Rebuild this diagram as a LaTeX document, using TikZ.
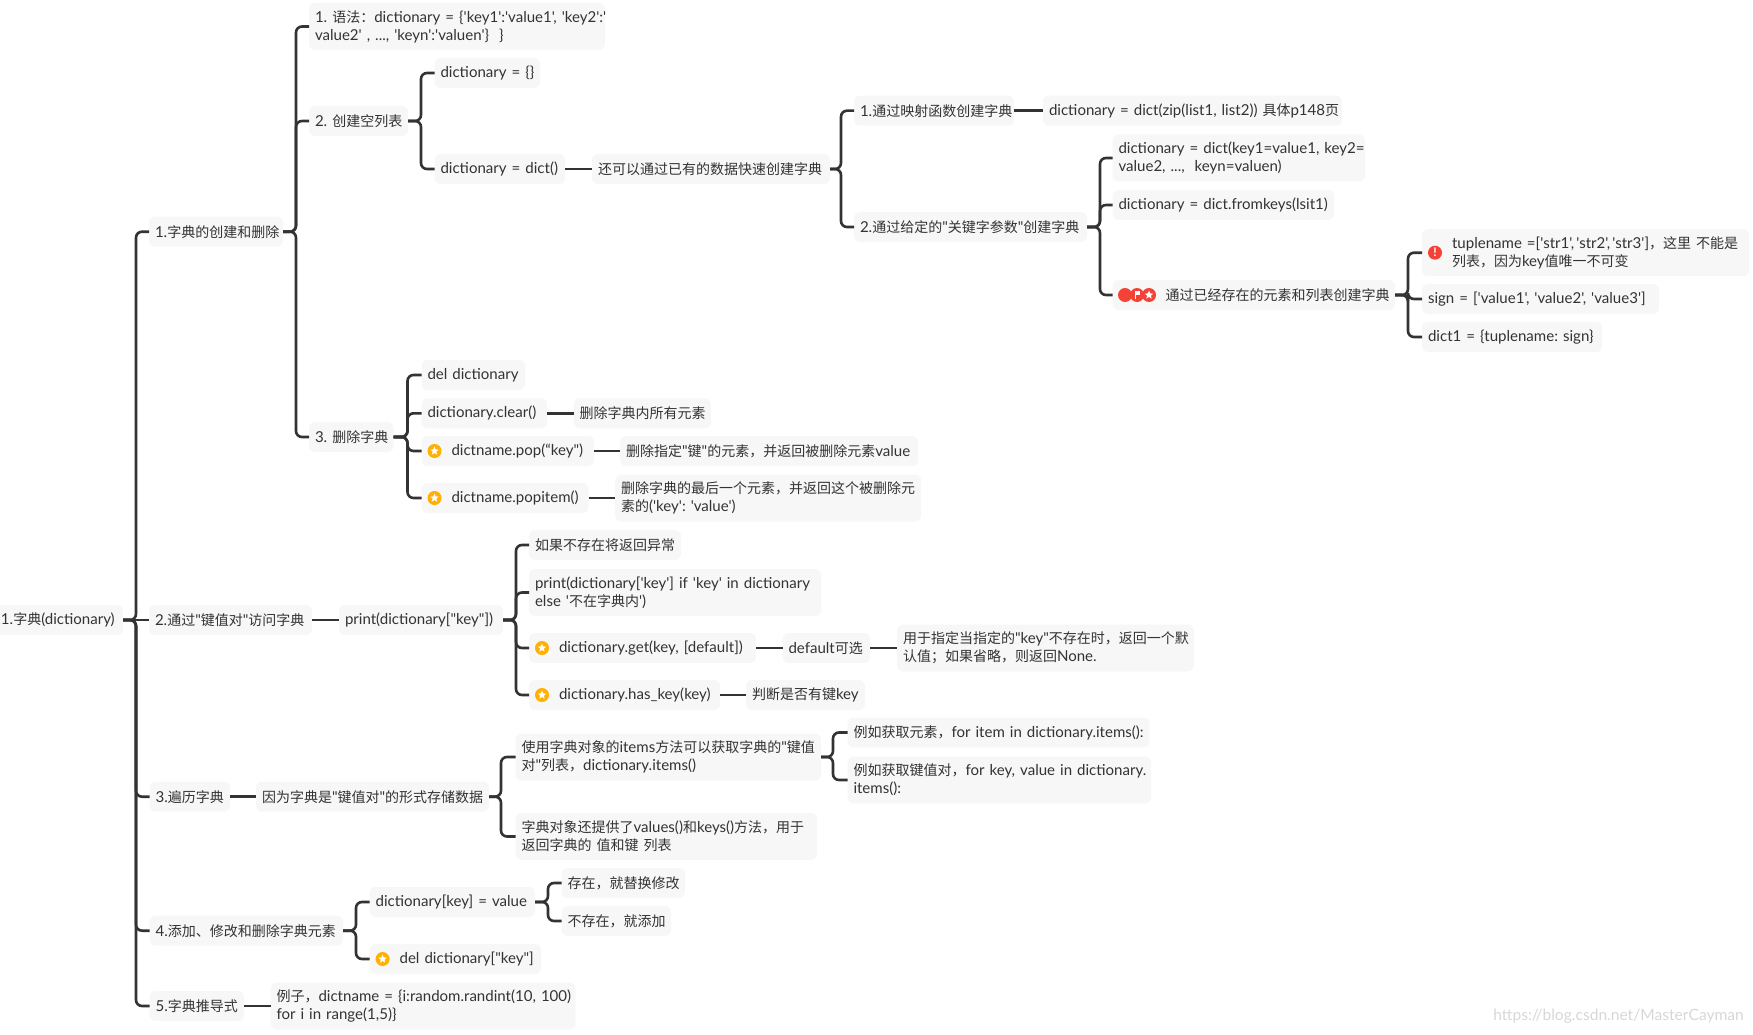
\documentclass[tikz,border=0pt]{standalone}
\usepackage{xcolor}
\usepackage{fontspec}
\usepackage{tikz}
\usetikzlibrary{shapes.geometric, positioning, calc}
\newfontfamily\latinfont[Scale=1.075]{Lato}
\newfontfamily\cjkfont{Noto Sans CJK SC}
% Chinese characters switch to the CJK family by themselves
\XeTeXinterchartokenstate=1
\newXeTeXintercharclass\cjkclass
\newcount\cjkcode
\cjkcode="3000
\loop\XeTeXcharclass\cjkcode=\cjkclass\advance\cjkcode 1\ifnum\cjkcode<"A000\repeat
\cjkcode="FF00
\loop\XeTeXcharclass\cjkcode=\cjkclass\advance\cjkcode 1\ifnum\cjkcode<"FF60\repeat
\XeTeXinterchartoks 0 \cjkclass={\cjkfont}
\XeTeXinterchartoks 4095 \cjkclass={\cjkfont}
\XeTeXinterchartoks \cjkclass 0={\latinfont}
\XeTeXinterchartoks \cjkclass 4095={\latinfont}
\definecolor{boxgray}{RGB}{247, 247, 247}
\definecolor{inkdark}{RGB}{51, 51, 51}
\definecolor{staramber}{RGB}{255, 176, 0}
\definecolor{markred}{RGB}{244, 67, 54}
\definecolor{stampgray}{RGB}{215, 215, 215}

\begin{document}
\begin{tikzpicture}[
    x=1pt, y=1pt,
    box/.style={rectangle, rounded corners=6pt, fill=boxgray, text=inkdark, align=left, outer sep=0pt,
                inner xsep=6pt, inner ysep=2pt, minimum height=30pt,
                font=\latinfont\fontsize{14}{18}\selectfont,
                execute at begin node={\hyphenpenalty=10000\exhyphenpenalty=10000}},
    tall/.style={minimum height=47pt},
    w/.style={text width=#1pt},
    link/.style={line width=2.6pt, draw=inkdark, rounded corners=6pt},
    stariconn/.style={circle, fill=staramber, minimum size=14pt, inner sep=0pt,
                path picture={\node[star, star points=5, star point ratio=2.3, fill=white,
                minimum size=9pt, inner sep=0pt] at (path picture bounding box.center) {};}},
    alerticon/.style={circle, fill=markred, minimum size=14pt, inner sep=0pt, text=white,
                font=\latinfont\bfseries\fontsize{11}{11}\selectfont},
    flagicon/.style={circle, fill=markred, minimum size=14pt, inner sep=0pt,
                path picture={\fill[white] ($(path picture bounding box.center)+(-2.5,-4)$) rectangle ++(1.3,8);
                \fill[white] ($(path picture bounding box.center)+(-1.2,4)$) rectangle ++(4.5,-4);}},
    stamp/.style={text=stampgray, font=\latinfont\fontsize{14.5}{18}\selectfont, inner sep=0pt}
]
\useasboundingbox (0,0) rectangle (1753,-1035);

\node[box, w=116, anchor=west] (root) at (-5,-620) {1.字典(dictionary)};
\node[box, w=122, right=26pt of root, yshift=388.3pt] (make) {1.字典的创建和删除};
\node[box, w=151, right=26pt of root, yshift=0pt] (visit) {2.通过"键值对"访问字典};
\node[box, w=68.4, right=26.6pt of root, yshift=-176.7pt] (walk) {3.遍历字典};
\node[box, w=181.4, right=26.6pt of root, yshift=-310.7pt] (edit) {4.添加、修改和删除字典元素};
\node[box, w=82.4, right=26.6pt of root, yshift=-386pt] (infer) {5.字典推导式};

\node[box, tall, w=284, right=26pt of make, yshift=205.2pt] (syntax) {1.~语法：dictionary~=~\{'key1':'value1',~'key2':'\\value2' , ..., 'keyn':'valuen'\}~~\}};
\node[box, w=87, right=26pt of make, yshift=110.7pt] (blank) {2.~创建空列表};
\node[box, w=72.5, right=26pt of make, yshift=-205.3pt] (drop) {3.~删除字典};

\node[box, w=93.5, right=26.5pt of blank, yshift=48pt] (emptydict) {dictionary~=~\{\}};
\node[box, w=118.5, right=26.5pt of blank, yshift=-48pt] (plaindict) {dictionary~=~dict()};
\node[box, w=226, right=27pt of plaindict] (fast) {还可以通过已有的数据快速创建字典};
\node[box, w=148, right=24pt of fast, yshift=58.3pt] (mapfn) {1.通过映射函数创建字典};
\node[box, w=287, right=29pt of mapfn] (zipdict) {dictionary~=~dict(zip(list1,~list2))~具体p148页};
\node[box, w=221, right=24pt of fast, yshift=-58pt] (keyarg) {2.通过给定的"关键字参数"创建字典};
\node[box, tall, w=240.5, right=25.5pt of keyarg, yshift=69pt] (kwdict) {dictionary~=~dict(key1=value1,~key2=\\value2, ...,~~keyn=valuen)};
\node[box, w=209.5, right=25.5pt of keyarg, yshift=22pt] (fromkeys) {dictionary~=~dict.fromkeys(lsit1)};
\node[box, w=270.5, right=25.5pt of keyarg, yshift=-68pt] (existing) {\hspace*{47pt}通过已经存在的元素和列表创建字典};
\node[box, tall, w=315, right=27pt of existing, yshift=42.3pt] (tuplename) {\hspace*{24pt}tuplename~=['str1',\hspace{2pt}'str2',\hspace{2pt}'str3']，这里~不能是\\\hspace*{24pt}列表，因为key值唯一不可变};
\node[box, w=225, right=27pt of existing, yshift=-4pt] (sign) {sign~=~['value1',~'value2',~'value3']};
\node[box, w=168, right=27pt of existing, yshift=-42pt] (dictone) {dict1~=~\{tuplename:~sign\}};

\node[box, w=91.6, right=28pt of drop, yshift=62pt] (deldict) {del~dictionary};
\node[box, w=113.6, right=28pt of drop, yshift=23.7pt] (clear) {dictionary.clear()};
\node[box, w=125.1, right=26.6pt of clear] (clearnote) {删除字典内所有元素};
\node[box, w=160.6, right=28pt of drop, yshift=-14pt] (popkey) {\hspace*{24pt}dictname.pop(“key")};
\node[box, w=286, right=26pt of popkey] (popnote) {删除指定"键"的元素，并返回被删除元素value};
\node[box, w=155.2, right=28pt of drop, yshift=-61pt] (popitem) {\hspace*{24pt}dictname.popitem()};
\node[box, tall, w=294, right=26.4pt of popitem] (itemnote) {删除字典的最后一个元素，并返回这个被删除元\\素的('key':~'value')};

\node[box, w=152, right=27pt of visit] (printkey) {print(dictionary["key"])};
\node[box, w=140, right=26pt of printkey, yshift=75pt] (missing) {如果不存在将返回异常};
\node[box, tall, w=280, right=26pt of printkey, yshift=27.5pt] (printif) {print(dictionary['key']~if~'key'~in~dictionary\\else '不在字典内')};
\node[box, w=215, right=26pt of printkey, yshift=-28pt] (getkey) {\hspace*{24pt}dictionary.get(key,~[default])};
\node[box, w=75.5, right=26.5pt of getkey] (optional) {default可选};
\node[box, tall, w=285, right=27pt of optional] (getnote) {用于指定当指定的"key"不存在时，返回一个默\\认值；如果省略，则返回None.};
\node[box, w=179, right=26pt of printkey, yshift=-75pt] (haskey) {\hspace*{24pt}dictionary.has\_key(key)};
\node[box, w=107, right=26pt of haskey] (hasnote) {判断是否有键key};

\node[box, w=221, right=26pt of walk] (pairs) {因为字典是"键值对"的形式存储数据};
\node[box, tall, w=293.5, right=26.5pt of pairs, yshift=39.7pt] (items) {使用字典对象的items方法可以获取字典的"键值\\对"列表，dictionary.items()};
\node[box, tall, w=289.5, right=26.5pt of pairs, yshift=-39.8pt] (values) {字典对象还提供了values()和keys()方法，用于\\返回字典的 值和键 列表};
\node[box, w=290, right=26.5pt of items, yshift=24.5pt] (getitem) {例如获取元素，for~item~in~dictionary.items():};
\node[box, tall, w=291.5, right=26.5pt of items, yshift=-23pt] (getpair) {例如获取键值对，for~key,~value~in~dictionary.\\items():};

\node[box, w=153.4, right=26.6pt of edit, yshift=28.7pt] (setkey) {dictionary[key]~=~value};
\node[box, w=111.5, right=26.5pt of setkey, yshift=19pt] (replace) {存在，就替换修改};
\node[box, w=97.5, right=26.5pt of setkey, yshift=-19pt] (append) {不存在，就添加};
\node[box, w=159.4, right=26.6pt of edit, yshift=-28.3pt] (delkey) {\hspace*{24pt}del~dictionary["key"]};

\node[box, tall, w=293.1, right=26.5pt of infer] (sample) {例子，dictname~=~\{i:random.randint(10,~100)\\for i in range(1,5)\}};

% icons
\node[alerticon] (alertmark) at ($(tuplename.west)+(13,0)$) {!};
\node[circle, fill=markred, minimum size=14pt, inner sep=0pt] (reddot) at ($(existing.west)+(12.5,0)$) {};
\node[flagicon] (flagmark) at ($(existing.west)+(24.5,0)$) {};
\node[stariconn, fill=markred] (redstar) at ($(existing.west)+(36.5,0)$) {};
\node[stariconn] (popstar) at ($(popkey.west)+(13,0)$) {};
\node[stariconn] (itemstar) at ($(popitem.west)+(13,0)$) {};
\node[stariconn] (getstar) at ($(getkey.west)+(13,0)$) {};
\node[stariconn] (hasstar) at ($(haskey.west)+(13,0)$) {};
\node[stariconn] (delstar) at ($(delkey.west)+(13,0)$) {};

% connectors
\draw[link] (root.east) -- ++(13,0) |- (make.west);
\draw[link] (root.east) -- (visit.west);
\draw[link] (root.east) -- ++(13,0) |- (walk.west);
\draw[link] (root.east) -- ++(13,0) |- (edit.west);
\draw[link] (root.east) -- ++(13,0) |- (infer.west);
\draw[link] (make.east) -- ++(13,0) |- (syntax.west);
\draw[link] (make.east) -- ++(13,0) |- (blank.west);
\draw[link] (make.east) -- ++(13,0) |- (drop.west);
\draw[link] (blank.east) -- ++(13,0) |- (emptydict.west);
\draw[link] (blank.east) -- ++(13,0) |- (plaindict.west);
\draw[link] (plaindict) -- (fast);
\draw[link] (fast.east) -- ++(11,0) |- (mapfn.west);
\draw[link] (fast.east) -- ++(11,0) |- (keyarg.west);
\draw[link] (mapfn) -- (zipdict);
\draw[link] (keyarg.east) -- ++(13,0) |- (kwdict.west);
\draw[link] (keyarg.east) -- ++(13,0) |- (fromkeys.west);
\draw[link] (keyarg.east) -- ++(13,0) |- (existing.west);
\draw[link] (existing.east) -- ++(13,0) |- (tuplename.west);
\draw[link] (existing.east) -- ++(13,0) |- (sign.west);
\draw[link] (existing.east) -- ++(13,0) |- (dictone.west);
\draw[link] (drop.east) -- ++(14,0) |- (deldict.west);
\draw[link] (drop.east) -- ++(14,0) |- (clear.west);
\draw[link] (drop.east) -- ++(14,0) |- (popkey.west);
\draw[link] (drop.east) -- ++(14,0) |- (popitem.west);
\draw[link] (clear) -- (clearnote);
\draw[link] (popkey) -- (popnote);
\draw[link] (popitem) -- (itemnote);
\draw[link] (visit) -- (printkey);
\draw[link] (printkey.east) -- ++(13,0) |- (missing.west);
\draw[link] (printkey.east) -- ++(13,0) |- (printif.west);
\draw[link] (printkey.east) -- ++(13,0) |- (getkey.west);
\draw[link] (printkey.east) -- ++(13,0) |- (haskey.west);
\draw[link] (getkey) -- (optional);
\draw[link] (optional) -- (getnote);
\draw[link] (haskey) -- (hasnote);
\draw[link] (walk) -- (pairs);
\draw[link] (pairs.east) -- ++(12,0) |- (items.west);
\draw[link] (pairs.east) -- ++(12,0) |- (values.west);
\draw[link] (items.east) -- ++(12,0) |- (getitem.west);
\draw[link] (items.east) -- ++(12,0) |- (getpair.west);
\draw[link] (edit.east) -- ++(13,0) |- (setkey.west);
\draw[link] (edit.east) -- ++(13,0) |- (delkey.west);
\draw[link] (setkey.east) -- ++(13,0) |- (replace.west);
\draw[link] (setkey.east) -- ++(13,0) |- (append.west);
\draw[link] (infer) -- (sample);

\node[stamp, anchor=east] (mark) at (1744,-1016) {https://blog.csdn.net/MasterCayman};
\end{tikzpicture}
\end{document}
